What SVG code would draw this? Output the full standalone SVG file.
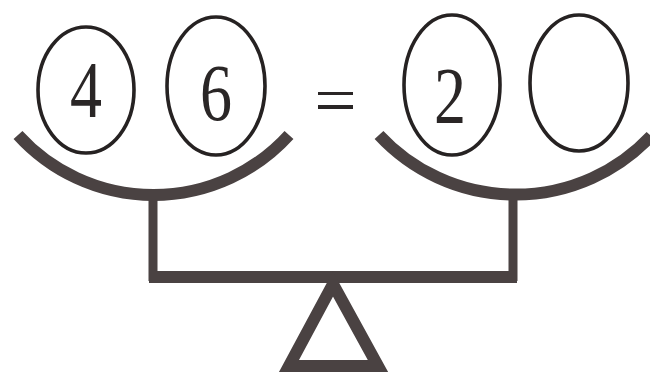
<svg xmlns="http://www.w3.org/2000/svg" width="650" height="377" viewBox="0 0 650 377">
<style>
.ring{fill:none;stroke:#262222;stroke-width:3.6}
.num{font-family:"Liberation Serif","Times New Roman",serif;font-size:80px;fill:#2a2626;text-anchor:middle}
.beam{fill:none;stroke:#4a4242;stroke-width:12;stroke-linejoin:miter}
.post{fill:none;stroke:#4a4242;stroke-width:9}
</style>
<rect width="650" height="377" fill="#ffffff"/>
<g id="scale">
<path class="beam" d="M18,135 A183,183 0 0 0 289,135"/>
<path class="beam" d="M379,135 A186,186 0 0 0 651,136"/>
<line class="post" x1="153" y1="195" x2="153" y2="281"/>
<line class="post" x1="513" y1="195" x2="513" y2="281"/>
<line class="beam" x1="149" y1="277" x2="517" y2="277"/>
<polygon class="beam" points="333,284 289,366 378,366"/>
</g>
<g id="n4">
<ellipse class="ring" cx="86" cy="90" rx="48" ry="63"/>
<text class="num" transform="translate(86,117) scale(0.8,1)">4</text>
</g>
<g id="n6">
<ellipse class="ring" cx="216" cy="86" rx="49" ry="69"/>
<text class="num" transform="translate(216,120) scale(0.8,1)">6</text>
</g>
<g id="eq">
<rect x="318" y="92" width="35" height="3" fill="#2a2626"/>
<rect x="318" y="105" width="35" height="4" fill="#2a2626"/>
</g>
<g id="n2">
<ellipse class="ring" cx="452" cy="85" rx="48" ry="70"/>
<text class="num" transform="translate(450,123) scale(0.8,1)">2</text>
</g>
<g id="nblank">
<ellipse class="ring" cx="579" cy="83" rx="49" ry="68"/>
</g>
<g id="connectors"/>
</svg>
